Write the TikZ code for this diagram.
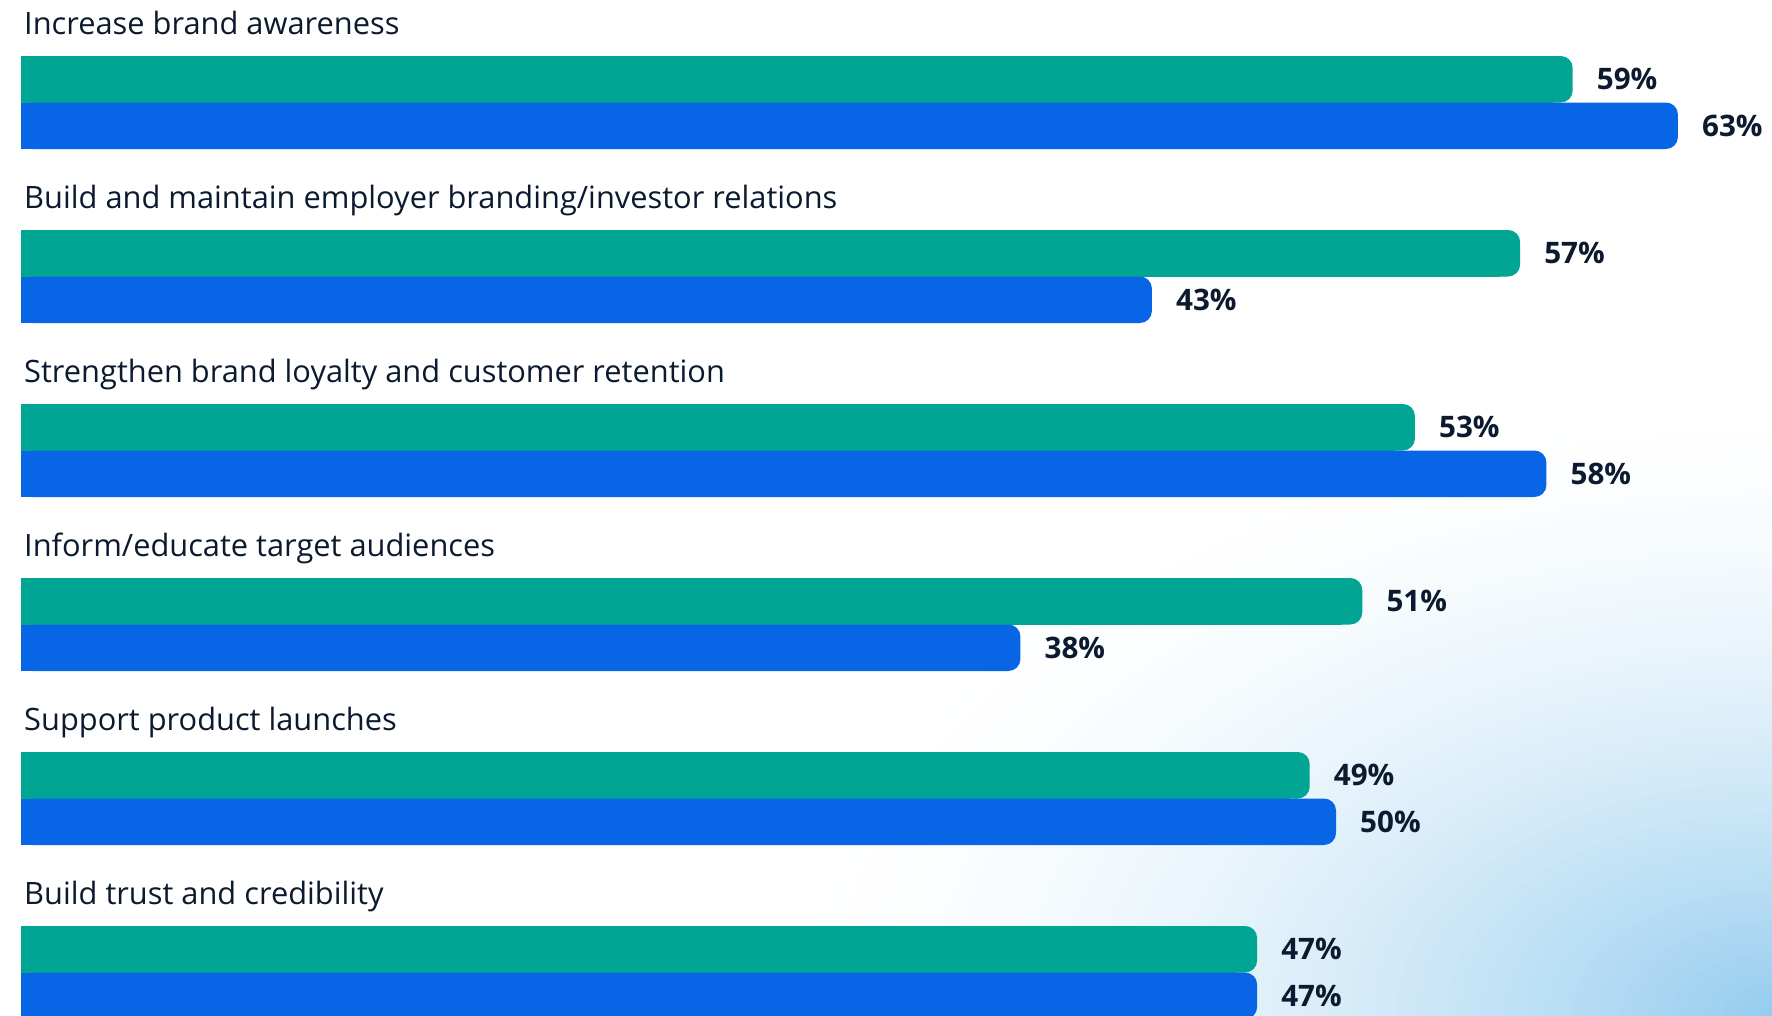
\documentclass[tikz,border=0pt]{standalone}
\usepackage{fontspec}
\setmainfont{Open Sans}
\definecolor{bargreen}{HTML}{00A693}
\definecolor{barblue}{HTML}{0866E6}
\definecolor{txt}{HTML}{0B1A2E}
\definecolor{bgblue}{HTML}{94CCEE}
\tikzset{
  ttl/.style={anchor=base west, inner sep=0pt, text=txt, font=\fontsize{30.8}{36}\selectfont},
  pct/.style={anchor=base west, inner sep=0pt, text=txt, font=\fontsize{29.6}{34}\selectfont\bfseries},
}
\begin{document}
\begin{tikzpicture}[x=1pt,y=-1pt]
\useasboundingbox (0,0) rectangle (1772,1015);
\begin{scope}
\clip (0,0) rectangle (1772,1015);
\fill[white] (0,0) rectangle (1772,1015);
\foreach \i in {0,...,80}{
  \pgfmathsetmacro\f{1-\i/80}
  \pgfmathsetmacro\c{100*(\i/80)^1.7}
  \fill[bgblue!\c!white] (1772,1015) ellipse ({\f*1000} and {\f*620});
}
\end{scope}
\def\unit{26.3}
\foreach \k/\t/\g/\b in {
  0/Increase brand awareness/59/63,
  1/Build and maintain employer branding\slash investor relations/57/43,
  2/Strengthen brand loyalty and customer retention/53/58,
  3/Inform\slash educate target audiences/51/38,
  4/Support product launches/49/50,
  5/Build trust and credibility/47/47}{
  \pgfmathsetmacro\top{56+174*\k}
  \pgfmathsetmacro\mid{\top+46.5}
  \pgfmathsetmacro\bot{\top+93}
  \pgfmathsetmacro\xg{21+\unit*\g}
  \pgfmathsetmacro\xb{21+\unit*\b}
  \node[ttl] (t\k) at (24,\top-22) {\t};
  \fill[bargreen,rounded corners=12] (21,\top) rectangle (\xg,\mid);
  \fill[bargreen] (21,\top) rectangle (\xg-20,\mid);
  \fill[barblue,rounded corners=12] (21,\mid) rectangle (\xb,\bot);
  \fill[barblue] (21,\mid) rectangle (\xb-20,\bot);
  \node[pct] (g\k) at (\xg+24,\top+23.25+10.7) {\g\%};
  \node[pct] (b\k) at (\xb+24,\mid+23.25+10.7) {\b\%};
}
\end{tikzpicture}
\end{document}
